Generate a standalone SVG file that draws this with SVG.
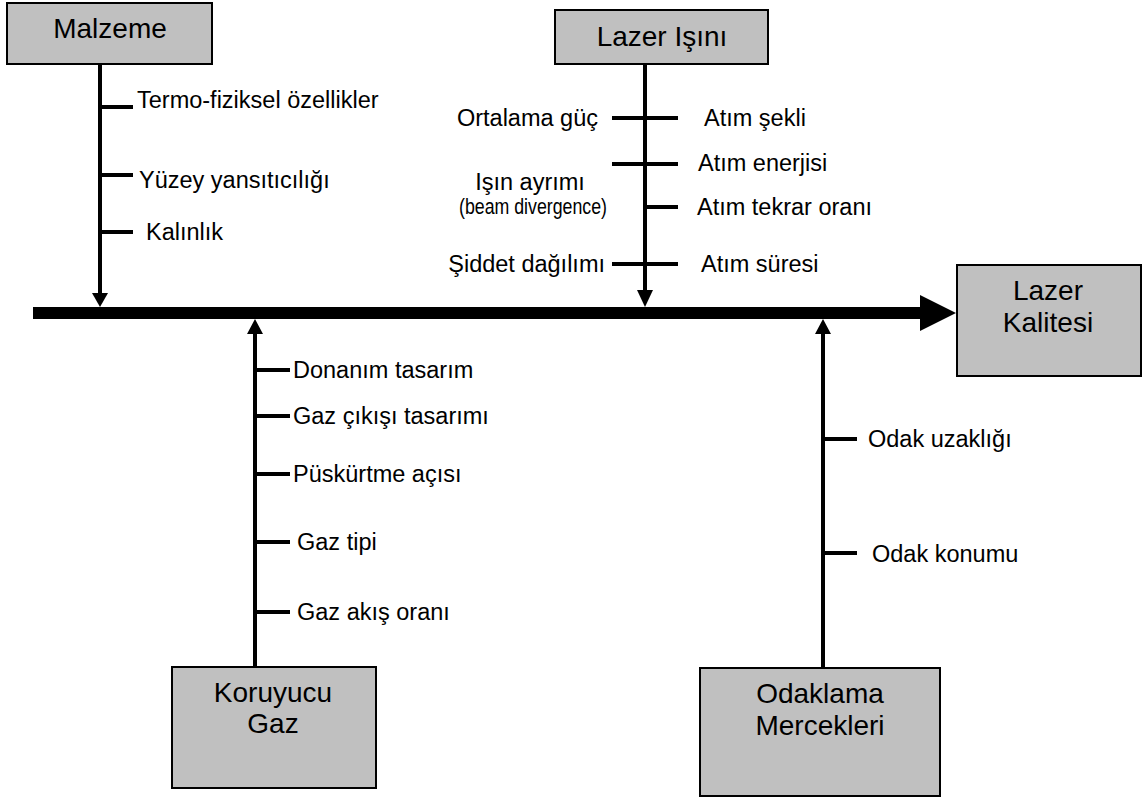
<svg xmlns="http://www.w3.org/2000/svg" width="1142" height="798" viewBox="0 0 1142 798">
  <style>
    .box { fill: #c0c0c0; stroke: #000; stroke-width: 2; }
    .title { font-family: "Liberation Sans", Arial, sans-serif; font-size: 28px; fill: #000; text-anchor: middle; }
    .lbl { font-family: "Liberation Sans", Arial, sans-serif; font-size: 23.5px; fill: #000; }
    .end { text-anchor: end; }
    .mid { text-anchor: middle; }
    .bone { stroke: #000; stroke-width: 4; fill: none; }
    .tick { stroke: #000; stroke-width: 4; fill: none; }
    .head { fill: #000; }
  </style>

  <!-- main spine and branch bones -->
  <g id="connectors">
    <line x1="33" y1="313" x2="922" y2="313" stroke="#000" stroke-width="12"/>
    <polygon class="head" points="920,295 956,313 920,331"/>

    <line class="bone" x1="100" y1="64" x2="100" y2="295"/>
    <polygon class="head" points="92,293 108,293 100,307"/>

    <line class="bone" x1="645" y1="64" x2="645" y2="292"/>
    <polygon class="head" points="637,290 653,290 645,307"/>

    <line class="bone" x1="255" y1="332" x2="255" y2="667"/>
    <polygon class="head" points="247,334 263,334 255,319"/>

    <line class="bone" x1="823" y1="332" x2="823" y2="668"/>
    <polygon class="head" points="815,334 831,334 823,319"/>

    <!-- sub-cause ticks -->
    <line class="tick" x1="100" y1="107" x2="133" y2="107"/>
    <line class="tick" x1="100" y1="175" x2="133" y2="175"/>
    <line class="tick" x1="100" y1="232" x2="133" y2="232"/>

    <line class="tick" x1="612" y1="118" x2="678" y2="118"/>
    <line class="tick" x1="612" y1="164" x2="678" y2="164"/>
    <line class="tick" x1="645" y1="207" x2="678" y2="207"/>
    <line class="tick" x1="612" y1="264" x2="678" y2="264"/>

    <line class="tick" x1="255" y1="370" x2="290" y2="370"/>
    <line class="tick" x1="255" y1="416" x2="290" y2="416"/>
    <line class="tick" x1="255" y1="474" x2="290" y2="474"/>
    <line class="tick" x1="255" y1="542" x2="290" y2="542"/>
    <line class="tick" x1="255" y1="612" x2="290" y2="612"/>

    <line class="tick" x1="823" y1="439" x2="857" y2="439"/>
    <line class="tick" x1="823" y1="553" x2="857" y2="553"/>
  </g>

  <g id="malzeme">
    <rect class="box" x="7" y="3" width="205" height="61"/>
    <text class="title" x="110" y="38">Malzeme</text>
    <text class="lbl" x="137" y="108">Termo-fiziksel özellikler</text>
    <text class="lbl" x="139" y="188">Yüzey yansıtıcılığı</text>
    <text class="lbl" x="146" y="240">Kalınlık</text>
  </g>

  <g id="lazer-isini">
    <rect class="box" x="555" y="10" width="213" height="54"/>
    <text class="title" x="662" y="46">Lazer Işını</text>
    <text class="lbl end" x="598" y="126">Ortalama güç</text>
    <text class="lbl mid" x="530" y="190">Işın ayrımı</text>
    <text class="lbl" x="459" y="214" style="font-size:22px" textLength="148" lengthAdjust="spacingAndGlyphs">(beam divergence)</text>
    <text class="lbl end" x="605" y="272">Şiddet dağılımı</text>
    <text class="lbl" x="704" y="126">Atım şekli</text>
    <text class="lbl" x="698" y="171">Atım enerjisi</text>
    <text class="lbl" x="697" y="215">Atım tekrar oranı</text>
    <text class="lbl" x="701" y="272">Atım süresi</text>
  </g>

  <g id="lazer-kalitesi">
    <rect class="box" x="957" y="265" width="184" height="111"/>
    <text class="title" x="1048" y="300">Lazer</text>
    <text class="title" x="1048" y="332">Kalitesi</text>
  </g>

  <g id="koruyucu-gaz">
    <rect class="box" x="172" y="667" width="204" height="121"/>
    <text class="title" x="273" y="702">Koruyucu</text>
    <text class="title" x="273" y="733">Gaz</text>
    <text class="lbl" x="293" y="378">Donanım tasarım</text>
    <text class="lbl" x="293" y="424">Gaz çıkışı tasarımı</text>
    <text class="lbl" x="293" y="482">Püskürtme açısı</text>
    <text class="lbl" x="297" y="550">Gaz tipi</text>
    <text class="lbl" x="297" y="620">Gaz akış oranı</text>
  </g>

  <g id="odaklama-mercekleri">
    <rect class="box" x="700" y="668" width="240" height="128"/>
    <text class="title" x="820" y="703">Odaklama</text>
    <text class="title" x="820" y="735">Mercekleri</text>
    <text class="lbl" x="868" y="447">Odak uzaklığı</text>
    <text class="lbl" x="872" y="562">Odak konumu</text>
  </g>
</svg>
